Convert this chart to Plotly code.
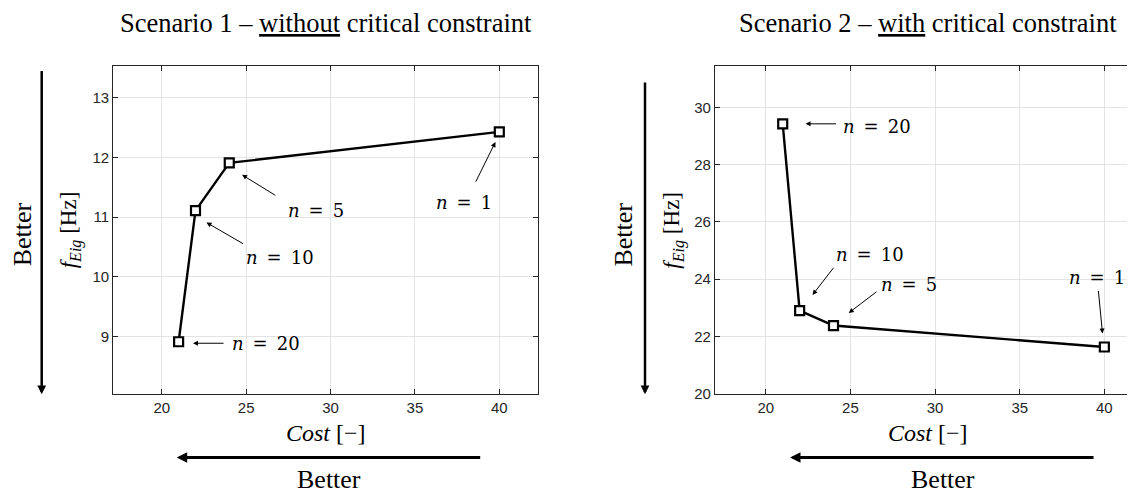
import plotly.graph_objects as go

# ---------------- data ----------------
cost = [21, 22, 24, 40]
n_values = [20, 10, 5, 1]
f_eig_s1 = [8.91, 11.11, 11.91, 12.43]
f_eig_s2 = [29.43, 22.90, 22.38, 21.63]

titles = ["Scenario 1 \u2013 <u>without</u> critical constraint",
          "Scenario 2 \u2013 <u>with</u> critical constraint"]
x_ticks = [20, 25, 30, 35, 40]
y_ticks_s1 = [9, 10, 11, 12, 13]
y_ticks_s2 = [20, 22, 24, 26, 28, 30]

# label annotations: (n, text_x, text_y, tail_x, tail_y, head_x, head_y)
labels_s1 = [
    (20, 26.15, 8.875, 23.75, 8.885, 21.85, 8.885),
    (10, 27.03, 10.33, 24.91, 10.54, 22.65, 10.91),
    (5, 29.14, 11.12, 26.82, 11.35, 24.76, 11.71),
    (1, 37.93, 11.24, 38.56, 11.57, 39.77, 12.26),
]
labels_s2 = [
    (20, 26.55, 29.35, 24.24, 29.43, 22.35, 29.43),
    (10, 26.14, 24.85, 24.07, 24.45, 22.76, 23.45),
    (5, 28.46, 23.81, 26.63, 23.60, 24.90, 22.82),
    (1, 39.57, 24.05, 39.64, 23.64, 39.89, 22.10),
]

# The page body has a default 8px margin; compensate so screen pixels match.
OFF = 8
W, H = 1135 - OFF, 500 - OFF


def px(x):
    return (x - OFF) / W


def py(y):
    return 1 - (y - OFF) / H


AX = "#262626"
GRID = "#e3e3e3"

fig = go.Figure()
for f, xa, ya in [(f_eig_s1, "x", "y"), (f_eig_s2, "x2", "y2")]:
    fig.add_trace(go.Scatter(
        x=cost, y=f, xaxis=xa, yaxis=ya, mode="lines+markers",
        line=dict(color="black", width=2.4),
        marker=dict(symbol="square", size=9, color="white",
                    line=dict(color="black", width=2.2)),
        showlegend=False, hoverinfo="x+y"))

axis_common = dict(showgrid=True, gridcolor=GRID, gridwidth=1,
                   showline=True, linecolor=AX, linewidth=1.2,
                   ticks="inside", ticklen=5, tickcolor=AX, tickwidth=1,
                   tickfont=dict(family="Liberation Sans, Arial", size=15, color=AX),
                   zeroline=False)

yd = [py(400), py(67.3)]
fig.update_layout(
    width=W, height=H, margin=dict(l=0, r=0, t=0, b=0),
    paper_bgcolor="white", plot_bgcolor="white",
    xaxis=dict(domain=[px(113.3), px(538.3)], range=[17.13, 42.31],
               tickvals=x_ticks, mirror="ticks", anchor="y", **axis_common),
    yaxis=dict(domain=yd, range=[8.04, 13.53], tickvals=y_ticks_s1,
               mirror="ticks", anchor="x", **axis_common),
    xaxis2=dict(domain=[px(715), 1.0], range=[17.0, 41.81],
                tickvals=x_ticks, mirror="ticks", anchor="y2", **axis_common),
    yaxis2=dict(domain=yd, range=[20, 31.44], tickvals=y_ticks_s2,
                mirror=False, anchor="x2", **axis_common),
)

ann = []
label_font = dict(family="DejaVu Serif", size=18, color="black")
for labels, xr, yr in [(labels_s1, "x", "y"), (labels_s2, "x2", "y2")]:
    for n, tx, ty, ax_, ay_, hx, hy in labels:
        ann.append(dict(x=tx, y=ty, xref=xr, yref=yr, showarrow=False,
                        text=f"<i>n</i>\u2002=\u2002{n}", font=label_font,
                        xanchor="center", yanchor="middle"))
        ann.append(dict(x=hx, y=hy, ax=ax_, ay=ay_, xref=xr, yref=yr,
                        axref=xr, ayref=yr, text="", showarrow=True,
                        arrowhead=2, arrowsize=1, arrowwidth=1, arrowcolor="black"))

serif = "Liberation Serif, Times New Roman"
centers = [(113.3 + 538.3) / 2, (715 + 1140) / 2]
ytitle_x = [70, 673.3]
better_vx = [22, 623.3]
arrow_vx = [41.7, 645]
arrow_vtop = [76, 87.3]
harrow = [(176.7, 481.7), (790, 1095)]
for k in range(2):
    # subplot titles
    ann.append(dict(x=px(centers[k]), y=py(23), xref="paper", yref="paper",
                    text=titles[k], showarrow=False, xanchor="center", yanchor="middle",
                    font=dict(family=serif, size=26.5, color="black")))
    # x axis title
    ann.append(dict(x=px(centers[k]), y=py(440), xref="paper", yref="paper",
                    text="<i>Cost</i> [\u2212]", showarrow=False, xanchor="center",
                    yanchor="middle", font=dict(family=serif, size=24, color="black")))
    # y axis title
    ann.append(dict(x=px(ytitle_x[k]), y=py(234), xref="paper", yref="paper",
                    text="<i>f</i><sub><i>Eig</i></sub> [Hz]", showarrow=False,
                    textangle=-90, xanchor="center", yanchor="middle",
                    font=dict(family=serif, size=23, color="black")))
    # vertical "Better"
    ann.append(dict(x=px(better_vx[k]), y=py(238), xref="paper", yref="paper",
                    text="Better", showarrow=False, textangle=-90,
                    xanchor="center", yanchor="middle",
                    font=dict(family=serif, size=26, color="black")))
    ann.append(dict(x=px(arrow_vx[k]), y=py(400.7), xref="paper", yref="paper",
                    ax=0, ay=-(400.7 - arrow_vtop[k]), text="", showarrow=True,
                    arrowhead=2, arrowsize=0.7, arrowwidth=2.5, arrowcolor="black"))
    # horizontal "Better"
    hx0, hx1 = harrow[k]
    ann.append(dict(x=px(hx0), y=py(465), xref="paper", yref="paper",
                    ax=hx1 - hx0, ay=0, text="", showarrow=True,
                    arrowhead=2, arrowsize=0.7, arrowwidth=3, arrowcolor="black"))
    ann.append(dict(x=px((hx0 + hx1) / 2), y=py(487), xref="paper", yref="paper",
                    text="Better", showarrow=False, xanchor="center", yanchor="middle",
                    font=dict(family=serif, size=26, color="black")))

fig.update_layout(annotations=ann)
fig.write_html("out.html")
